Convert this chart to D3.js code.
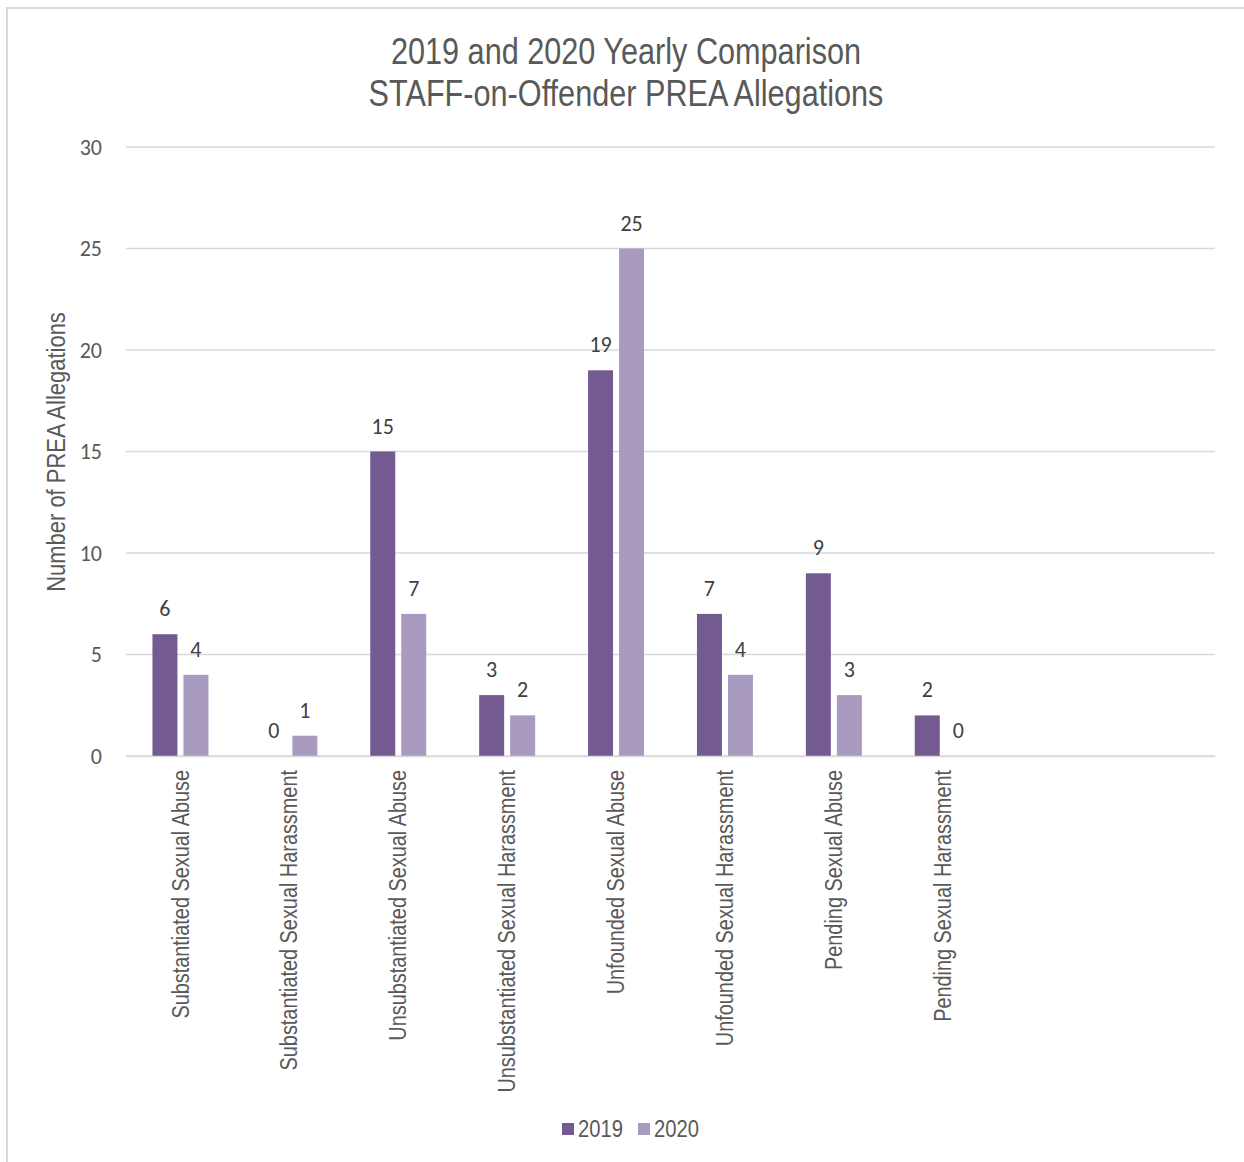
<!DOCTYPE html>
<html><head><meta charset="utf-8">
<script src="https://cdn.jsdelivr.net/npm/d3@7"></script>
<style>body{margin:0;background:#fff;} svg{display:block;}</style>
</head><body>
<script>
const categories = ["Substantiated Sexual Abuse","Substantiated Sexual Harassment","Unsubstantiated Sexual Abuse","Unsubstantiated Sexual Harassment","Unfounded Sexual Abuse","Unfounded Sexual Harassment","Pending Sexual Abuse","Pending Sexual Harassment","",""];
const seriesNames = ["2019","2020"];
const values2019 = [6,0,15,3,19,7,9,2,null,null];
const values2020 = [4,1,7,2,25,4,3,0,null,null];
const yTicks = [0,5,10,15,20,25,30];
const titleLines = ["2019 and 2020 Yearly Comparison","STAFF-on-Offender PREA Allegations"];
const yTitle = "Number of PREA Allegations";

const W=1244,H=1162;
const colors=["#735b92","#a99bc0"];
const narrow='"Liberation Sans Narrow","Arial Narrow","Liberation Sans",Arial,sans-serif';
const calib='Carlito,Calibri,Lato,"Open Sans",sans-serif';
const svg=d3.select("body").append("svg").attr("width",W).attr("height",H);
svg.append("rect").attr("x",7).attr("y",8).attr("width",W+20).attr("height",H+20).attr("fill","#fff").attr("stroke","#d9d9d9").attr("stroke-width",2);

function condense(sel,f){
  sel.each(function(){
    const L=this.getComputedTextLength();
    if(L>0) d3.select(this).attr("textLength",L*f).attr("lengthAdjust","spacingAndGlyphs");
  });
}

const x=d3.scaleBand().domain(d3.range(categories.length)).range([126,1215]);
const y=d3.scaleLinear().domain([0,30]).range([756,147]);
const barW=25, gap=6;

// grid
svg.append("g").selectAll("line").data(yTicks).join("line")
 .attr("x1",126).attr("x2",1215).attr("y1",d=>y(d)).attr("y2",d=>y(d))
 .attr("stroke","#d9d9d9").attr("stroke-width",1.5);

// y tick labels
const yAxis=d3.axisLeft(y).tickValues(yTicks).tickSize(0).tickPadding(0);
const ya=svg.append("g").attr("transform","translate(102,0)").call(yAxis);
ya.select(".domain").remove();
ya.selectAll("text").attr("font-family",calib).attr("font-size",22).attr("fill","#595959");

// title
const tt=svg.append("g").selectAll("text").data(titleLines).join("text")
 .attr("x",626).attr("y",(d,i)=>64+i*42).attr("text-anchor","middle")
 .attr("font-family",narrow).attr("font-size",36).attr("fill","#595959").text(d=>d);
condense(tt,0.851);

// y title
const yt=svg.append("text").attr("transform","translate(65,452) rotate(-90)").attr("text-anchor","middle")
 .attr("font-family",narrow).attr("font-size",25).attr("fill","#595959").text(yTitle);
condense(yt,0.879);

const series=[values2019,values2020];
series.forEach((vals,si)=>{
  const g=svg.append("g");
  const data=vals.map((v,i)=>({v,i})).filter(d=>d.v!==null);
  const bx=d=>x(d.i)+x.bandwidth()/2 + (si===0? -gap/2-barW : gap/2);
  g.selectAll("rect").data(data).join("rect")
   .attr("x",bx).attr("width",barW)
   .attr("y",d=>y(d.v)).attr("height",d=>y(0)-y(d.v)).attr("fill",colors[si]);
  g.selectAll("text").data(data).join("text")
   .attr("x",d=>bx(d)+barW/2).attr("y",d=>y(d.v)-18).attr("text-anchor","middle")
   .attr("font-family",calib).attr("font-size",22).attr("fill","#404040").text(d=>d.v);
});

// x category labels
const xAxis=d3.axisBottom(x).tickFormat(i=>categories[i]).tickSize(0);
const xa=svg.append("g").attr("transform","translate(0,756)").call(xAxis);
xa.select(".domain").attr("stroke","#d9d9d9").attr("stroke-width",1.5);
const xt=xa.selectAll("text").attr("font-family",narrow).attr("font-size",23).attr("fill","#595959")
 .attr("text-anchor","end").attr("transform","rotate(-90)").attr("x",-14).attr("y",0).attr("dy","0.35em");
condense(xt,0.864);

// legend
const lg=svg.append("g");
const lx=[562,638];
seriesNames.forEach((s,i)=>{
  lg.append("rect").attr("x",lx[i]).attr("y",1123).attr("width",12).attr("height",12).attr("fill",colors[i]);
  const t=lg.append("text").attr("x",lx[i]+16).attr("y",1137).attr("font-family",narrow).attr("font-size",24).attr("fill","#595959").text(s);
  condense(t,0.843);
});
</script>
</body></html>
